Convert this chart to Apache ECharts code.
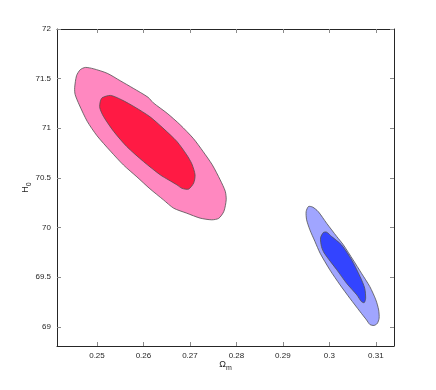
<!DOCTYPE html>
<html>
<head>
<meta charset="utf-8">
<script src="https://cdn.jsdelivr.net/npm/echarts@6/dist/echarts.min.js"></script>
<style>
  html, body { margin: 0; padding: 0; background: #fff; }
  #chart-container { width: 436px; height: 390px; }
</style>
</head>
<body>
<div id="chart-container"></div>
<script>
// confidence contours [Omega_m, H0]
var pinkOuter = [
  [0.2452, 71.408], [0.2456, 71.529], [0.2464, 71.590], [0.2475, 71.613], [0.2492, 71.600],
  [0.2522, 71.554], [0.2550, 71.479], [0.2578, 71.403], [0.2610, 71.312], [0.2621, 71.257],
  [0.2651, 71.151], [0.2679, 71.035], [0.2707, 70.899], [0.2728, 70.768], [0.2748, 70.632],
  [0.2765, 70.481], [0.2776, 70.365], [0.2778, 70.279], [0.2773, 70.163], [0.2762, 70.093],
  [0.2747, 70.078], [0.2722, 70.095], [0.2693, 70.145], [0.2665, 70.195], [0.2643, 70.279],
  [0.2614, 70.390], [0.2586, 70.510], [0.2557, 70.630], [0.2529, 70.770], [0.2500, 70.925],
  [0.2479, 71.070], [0.2462, 71.235], [0.2453, 71.340]
];
var redInner = [
  [0.2507, 71.267], [0.2511, 71.307], [0.2529, 71.331], [0.2553, 71.287], [0.2582, 71.212],
  [0.2614, 71.116], [0.2642, 71.002], [0.2672, 70.867], [0.2693, 70.733], [0.2704, 70.642],
  [0.2711, 70.531], [0.2708, 70.448], [0.2697, 70.387], [0.2683, 70.395], [0.2672, 70.430],
  [0.2654, 70.480], [0.2636, 70.531], [0.2600, 70.665], [0.2564, 70.816], [0.2536, 70.968],
  [0.2514, 71.119], [0.2506, 71.207]
];
var blueOuter = [
  [0.2955, 70.212], [0.2964, 70.206], [0.2976, 70.161], [0.2994, 70.044], [0.3016, 69.909],
  [0.3030, 69.826], [0.3051, 69.674], [0.3069, 69.540], [0.3087, 69.405], [0.3100, 69.271],
  [0.3106, 69.170], [0.3107, 69.087], [0.3103, 69.034], [0.3096, 69.014], [0.3087, 69.024],
  [0.3080, 69.069], [0.3066, 69.153], [0.3044, 69.288], [0.3023, 69.422], [0.3001, 69.574],
  [0.2980, 69.742], [0.2969, 69.859], [0.2958, 69.977], [0.2951, 70.078], [0.2950, 70.161]
];
var blueInner = [
  [0.2987, 69.950], [0.2994, 69.954], [0.3005, 69.909], [0.3026, 69.826], [0.3048, 69.674],
  [0.3066, 69.506], [0.3076, 69.389], [0.3078, 69.288], [0.3075, 69.244], [0.3069, 69.254],
  [0.3059, 69.322], [0.3037, 69.439], [0.3016, 69.574], [0.2989, 69.742], [0.2983, 69.808],
  [0.2981, 69.896]
];

var xTicks = [0.25, 0.26, 0.27, 0.28, 0.29, 0.3, 0.31];
var yTicks = [69, 69.5, 70, 70.5, 71, 71.5, 72];
var xRange = [0.2414, 0.3139];
var yRange = [68.807, 72];

var dom = document.getElementById('chart-container');
var myChart = echarts.init(dom, null, { renderer: 'canvas' });

var font = 'Liberation Sans, Arial, sans-serif';
var boxColor = '#262626';

function contourSeries(points, fill) {
  return {
    type: 'custom',
    data: points,
    encode: { x: 0, y: 1 },
    renderItem: function (params, api) {
      if (params.dataIndex !== 0) return null;
      var pts = points.map(function (p) { return api.coord(p); });
      return {
        type: 'polygon',
        shape: { points: pts, smooth: 0.25 },
        style: { fill: fill, stroke: '#505050', lineWidth: 0.8 }
      };
    }
  };
}

function xAxisOpt(pos, labels) {
  return {
    type: 'value',
    position: pos,
    min: xRange[0],
    max: xRange[1],
    splitLine: { show: false },
    axisLine: { show: true, onZero: false, lineStyle: { color: boxColor, width: 1 } },
    axisTick: { show: true, inside: true, length: 4, customValues: xTicks, lineStyle: { color: '#8a8a8a' } },
    axisLabel: {
      show: labels, customValues: xTicks, color: '#262626', fontSize: 8, fontFamily: font, margin: 6
    }
  };
}

function yAxisOpt(pos, labels) {
  return {
    type: 'value',
    position: pos,
    min: yRange[0],
    max: yRange[1],
    splitLine: { show: false },
    axisLine: { show: true, onZero: false, lineStyle: { color: boxColor, width: 1 } },
    axisTick: { show: true, inside: true, length: 4, customValues: yTicks, lineStyle: { color: '#8a8a8a' } },
    axisLabel: {
      show: labels, customValues: yTicks, color: '#262626', fontSize: 8, fontFamily: font, margin: 6
    }
  };
}

var nameRich = {
  a: { fontSize: 9, fontFamily: font, color: '#262626' },
  b: { fontSize: 7, fontFamily: font, color: '#262626', padding: [7, 0, 0, 0] }
};

var xMain = xAxisOpt('bottom', true);
xMain.name = '{a|Ω}{b|m}';
xMain.nameLocation = 'middle';
xMain.nameGap = 12;
xMain.nameMoveOverlap = false;
xMain.nameTextStyle = { color: '#262626', rich: nameRich };

var yMain = yAxisOpt('left', true);
yMain.name = '{a|H}{b|0}';
yMain.nameLocation = 'middle';
yMain.nameGap = 24;
yMain.nameRotate = 90;
yMain.nameMoveOverlap = false;
yMain.nameTextStyle = { color: '#262626', rich: nameRich };

var option = {
  backgroundColor: '#ffffff',
  animation: false,
  grid: { left: 57, right: 42, top: 29, bottom: 44, containLabel: false },
  xAxis: [xMain, xAxisOpt('top', false)],
  yAxis: [yMain, yAxisOpt('right', false)],
  series: [
    contourSeries(pinkOuter, '#ff88c0'),
    contourSeries(redInner, '#ff1a44'),
    contourSeries(blueOuter, '#a0a5ff'),
    contourSeries(blueInner, '#3344ff')
  ]
};

myChart.setOption(option);
window.addEventListener('resize', myChart.resize);
</script>
</body>
</html>
